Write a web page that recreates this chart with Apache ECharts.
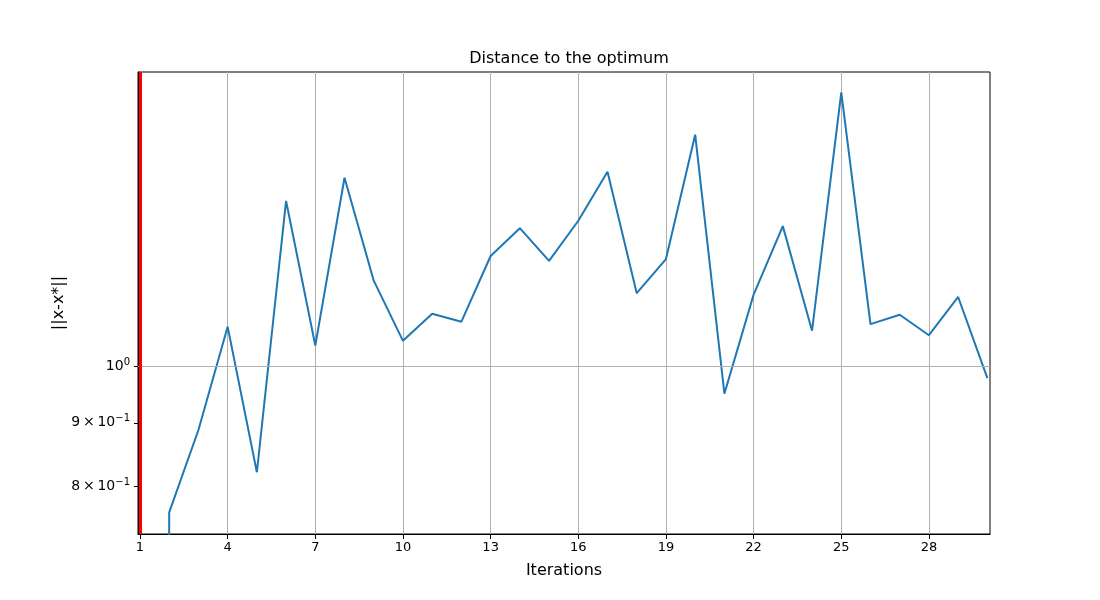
<!DOCTYPE html>
<html>
<head>
<meta charset="utf-8">
<title>Distance to the optimum</title>
<script src="https://cdn.jsdelivr.net/npm/echarts@6/dist/echarts.min.js"></script>
<style>
    html, body { margin: 0; padding: 0; background: #fff; }
    #main { width: 1100px; height: 600px; }
</style>
</head>
<body>
<div id="main"></div>
<script>
// iterations 1..30
var iterations = [1, 2, 3, 4, 5, 6, 7, 8, 9, 10, 11, 12, 13, 14, 15,
    16, 17, 18, 19, 20, 21, 22, 23, 24, 25, 26, 27, 28, 29, 30];
// ||x-x*|| ; first one is 0 in the original (off the log axis), so a tiny value
var distances = [1e-10, 0.762, 0.888, 1.076, 0.821, 1.359, 1.039, 1.419, 1.172, 1.048,
    1.102, 1.086, 1.227, 1.292, 1.216, 1.310, 1.435, 1.145, 1.220, 1.537,
    0.950, 1.142, 1.297, 1.068, 1.663, 1.081, 1.100, 1.059, 1.137, 0.978];
// tick labels
var xTicks = [1, 4, 7, 10, 13, 16, 19, 22, 25, 28];
var yTicks = [0.8, 0.9, 1];
// red vertical marker
var markerX = 1;

(function() {
    var myechart = echarts.init(document.getElementById('main'));
    var font = 'DejaVu Sans';

    var points = [];
    for (var i = 0; i < iterations.length; i++) {
        points.push([iterations[i], distances[i]]);
    }

    // 10^0 / 9x10^-1 style labels
    var yLabel = function(v) {
        if (Math.abs(v - 1) < 1e-9) return '{b|10}{s|0}';
        var m = Math.round(v * 10);
        return '{b|' + m + '\u2009\u00d7\u200910}{s|\u22121}';
    };

    var option = {
        animation: false,
        title: {
            text: 'Distance to the optimum',
            left: 564,
            top: 46,
            textAlign: 'center',
            textStyle: { fontFamily: font, fontSize: 16, fontWeight: 'normal', color: '#000' }
        },
        grid: {
            left: 138,
            right: 110,
            top: 72,
            bottom: 66,
            show: true,
            borderColor: '#000',
            borderWidth: 1
        },
        xAxis: {
            type: 'value',
            min: 0.932,
            max: 30.09,
            name: 'Iterations',
            nameLocation: 'middle',
            nameGap: 29,
            nameTextStyle: { fontFamily: font, fontSize: 16, color: '#000' },
            axisLine: { show: true, lineStyle: { color: '#000', width: 1 } },
            axisTick: { show: true, length: 5, customValues: xTicks, lineStyle: { color: '#000' } },
            axisLabel: {
                customValues: xTicks,
                fontFamily: font, fontSize: 13, color: '#000', margin: 7
            },
            splitLine: { show: true, lineStyle: { color: '#b0b0b0', width: 1 } }
        },
        yAxis: {
            type: 'log',
            min: 0.732,
            max: 1.727,
            name: '||x-x*||',
            nameLocation: 'middle',
            nameGap: 71,
            nameMoveOverlap: false,
            nameTextStyle: { fontFamily: font, fontSize: 16, color: '#000' },
            axisLine: { show: true, lineStyle: { color: '#000', width: 1 } },
            axisTick: { show: true, length: 4, customValues: yTicks, lineStyle: { color: '#000' } },
            axisLabel: {
                customValues: yTicks,
                formatter: yLabel,
                margin: 8,
                rich: {
                    b: { fontFamily: font, fontSize: 14, color: '#000' },
                    s: { fontFamily: font, fontSize: 10, color: '#000', padding: [0, 0, 8, 0] }
                }
            },
            splitLine: { show: false }
        },
        series: [{
            type: 'line',
            data: points,
            showSymbol: false,
            symbol: 'none',
            clip: true,
            lineStyle: { color: '#1f77b4', width: 2 },
            markLine: {
                silent: true,
                symbol: 'none',
                label: { show: false },
                data: [
                    { yAxis: 1, lineStyle: { color: '#b0b0b0', width: 1, type: 'solid' } },
                    { xAxis: markerX, lineStyle: { color: '#ff0000', width: 3, type: 'solid' } }
                ]
            }
        }]
    };
    myechart.setOption(option);
})();
</script>
</body>
</html>
